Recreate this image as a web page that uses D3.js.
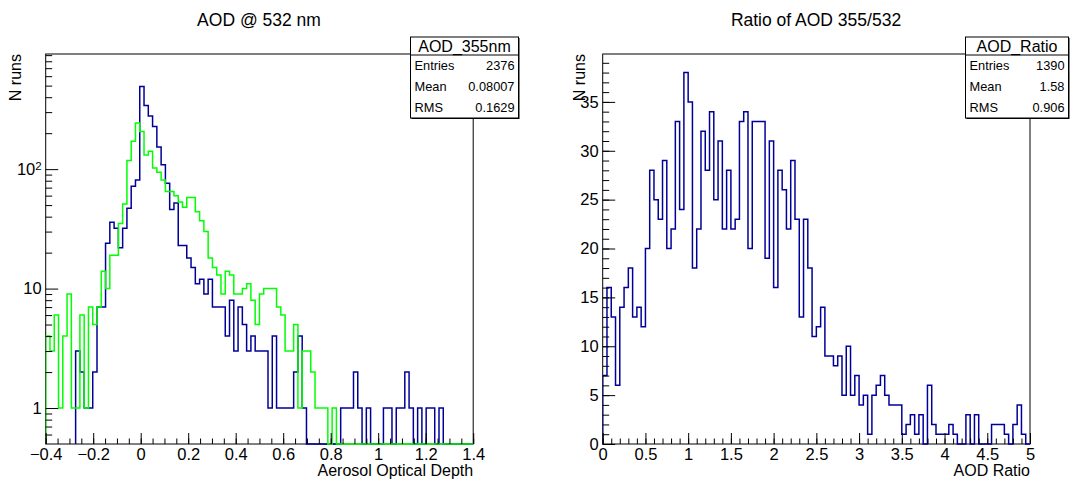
<!DOCTYPE html>
<html><head><meta charset="utf-8">
<script src="https://cdn.jsdelivr.net/npm/d3@7"></script>
<style>
body{margin:0;background:#fff}
svg{display:block}
text{font-family:"Liberation Sans",Arial,Helvetica,sans-serif;fill:#000}
</style>
</head><body>
<svg id="c" width="1071" height="480"></svg>
<script>
// ---------------- data ----------------
const aodRange = [-0.4, 1.4];
const aodBinCount = 100;
const aod355Counts = [
  0,0,0,0,0,0,0,3,2,1,
  1,2,7,7,24,36,32,22,32,47,
  72,81,491,341,279,227,153,109,76,46,
  52,23,23,18,15,11,12,9,12,7,
  7,7,4,8,3,7,5,3,4,3,
  3,3,1,4,1,1,1,1,2,4,
  1,0,0,0,0,0,0,0,0,1,
  1,1,2,1,0,1,0,0,0,1,
  1,0,1,1,2,1,0,1,0,1,
  1,0,1,0,0,0,0,0,0,0
];
const aod532Counts = [
  4,3,6,1,4,9,1,1,6,1,
  7,5,7,14,10,19,19,35,51,118,
  171,243,207,131,141,102,94,81,65,65,
  60,53,48,58,58,44,37,30,18,15,
  13,9,14,13,9,9,10,11,8,5,
  9,10,10,10,7,6,3,3,5,1,
  3,3,2,1,1,1,0,1,0,0,
  0,0,0,0,0,0,0,0,0,0,
  0,0,0,0,0,0,0,0,0,0,
  0,0,0,0,0,0,0,0,0,0
];
const ratioRange = [0, 5];
const ratioBinCount = 100;
const ratioCounts = [
  7,16,13,6,14,16,18,13,14,12,
  20,28,25,23,29,20,22,33,24,38,
  35,18,22,32,28,34,25,31,22,28,
  22,23,33,34,20,33,33,33,19,31,
  16,28,26,22,29,23,13,23,18,11,
  12,14,9,9,8,9,5,10,5,7,
  4,5,1,5,6,7,5,4,4,4,
  1,2,3,1,3,0,6,2,1,1,
  1,2,1,0,0,3,0,3,0,0,
  0,2,2,2,1,0,2,4,1,0
];
const aodYDomain = [0.5, 920];
const ratioYDomain = [0, 39.9];

const aodXMajor = [-0.4,-0.2,0,0.2,0.4,0.6,0.8,1,1.2,1.4];
const aodXLabels = ["\u22120.4","\u22120.2","0","0.2","0.4","0.6","0.8","1","1.2","1.4"];
const aodYMajor = [1,10,100];
const aodYLabels = ["1","10","10|2"];
const ratioXMajor = [0,0.5,1,1.5,2,2.5,3,3.5,4,4.5,5];
const ratioXLabels = ["0","0.5","1","1.5","2","2.5","3","3.5","4","4.5","5"];
const ratioYMajor = [0,5,10,15,20,25,30,35];
const ratioYLabels = ["0","5","10","15","20","25","30","35"];

const titles = ["AOD @ 532 nm", "Ratio of AOD 355/532"];
const xTitles = ["Aerosol Optical Depth", "AOD Ratio"];
const yTitle = "N runs";
const statsLeft = {name:"AOD_355nm", rows:[["Entries","2376"],["Mean","0.08007"],["RMS","0.1629"]]};
const statsRight = {name:"AOD_Ratio", rows:[["Entries","1390"],["Mean","1.58"],["RMS","0.906"]]};

const BLUE = "#000099", GREEN = "#00ff00";

// ---------------- helpers ----------------
const svg = d3.select("#c");

function histPath(counts, range, n, x, y, yBottomPx) {
  const w = (range[1]-range[0])/n;
  let first = counts.findIndex(v => v > 0);
  const pts = [];
  pts.push([x(range[0]+first*w), yBottomPx]);
  for (let i = first; i < n; i++) {
    const v = counts[i];
    const py = v > 0 ? y(v) : yBottomPx;
    pts.push([x(range[0]+i*w), py]);
    pts.push([x(range[0]+(i+1)*w), py]);
  }
  pts.push([x(range[1]), yBottomPx]);
  return d3.line()(pts);
}

function panel(opt) {
  const {L,R,T,B} = opt;
  const g = svg.append("g");
  const x = opt.x, y = opt.y;
  const clipId = "clip"+opt.id;
  svg.append("clipPath").attr("id", clipId).append("rect")
    .attr("x", L).attr("y", T).attr("width", R-L).attr("height", B-T+1);
  g.append("rect").attr("x",L).attr("y",T).attr("width",R-L).attr("height",B-T)
    .attr("fill","none").attr("stroke","#000").attr("stroke-width",1);
  opt.hists.forEach(h => {
    g.append("path").attr("clip-path",`url(#${clipId})`)
      .attr("d", histPath(h.counts, h.range, h.n, x, y, B))
      .attr("fill","none").attr("stroke",h.color).attr("stroke-width",1.5);
  });
  const gx = g.append("g").attr("transform",`translate(0,${B})`)
    .call(d3.axisBottom(x).tickValues(opt.xMajor).tickSize(-11).tickPadding(4)
      .tickFormat((d,i)=>opt.xLabels[i]));
  const gxm = g.append("g").attr("transform",`translate(0,${B})`)
    .call(d3.axisBottom(x).tickValues(opt.xMinor).tickSize(-5.5).tickFormat(""));
  const gy = g.append("g").attr("transform",`translate(${L},0)`)
    .call(d3.axisLeft(y).tickValues(opt.yMajor).tickSize(-12.5).tickPadding(4)
      .tickFormat((d,i)=>opt.yLabels[i]));
  const gym = g.append("g").attr("transform",`translate(${L},0)`)
    .call(d3.axisLeft(y).tickValues(opt.yMinor).tickSize(-6.5).tickFormat(""));
  [gx,gxm,gy,gym].forEach(a => {
    a.select(".domain").remove();
    a.selectAll("line").attr("stroke","#000").attr("stroke-width",1);
    a.selectAll("text").attr("font-size",16.5).attr("font-family",null).attr("fill","#000");
  });
  gy.selectAll("text").each(function(){
    const t = d3.select(this); const s = t.text();
    if (s.includes("|")) {
      const [b,e] = s.split("|");
      t.text(b);
      t.append("tspan").attr("dy","-0.45em").attr("font-size",11.5).text(e);
    }
  });
  svg.append("text").attr("x",opt.titleX).attr("y",26).attr("text-anchor","middle")
    .attr("font-size",17.5).text(opt.title);
  svg.append("text").attr("x",R).attr("y",476).attr("text-anchor","end")
    .attr("font-size",16).text(opt.xTitle);
  svg.append("text").attr("transform",`translate(${opt.yTitleX},${T}) rotate(-90)`)
    .attr("text-anchor","end").attr("font-size",16).text(yTitle);
  const s = opt.stats, bx = opt.box;
  const sb = svg.append("g");
  sb.append("rect").attr("x",bx.x+1).attr("y",bx.y+1).attr("width",bx.w).attr("height",bx.h).attr("fill","#000");
  sb.append("rect").attr("x",bx.x).attr("y",bx.y).attr("width",bx.w).attr("height",bx.h)
    .attr("fill","#fff").attr("stroke","#000").attr("stroke-width",1);
  const rowH = (bx.h - bx.th)/s.rows.length;
  sb.append("line").attr("x1",bx.x).attr("x2",bx.x+bx.w).attr("y1",bx.y+bx.th).attr("y2",bx.y+bx.th)
    .attr("stroke","#000");
  sb.append("text").attr("x",bx.x+bx.w/2).attr("y",bx.y+bx.th-3).attr("text-anchor","middle")
    .attr("font-size",16).text(s.name);
  s.rows.forEach((r,i) => {
    const cy = bx.y + bx.th + rowH*(i+0.5);
    sb.append("text").attr("x",bx.x+4).attr("y",cy).attr("dy","0.35em")
      .attr("font-size",12.8).text(r[0]);
    sb.append("text").attr("x",bx.x+bx.w-4).attr("y",cy).attr("dy","0.35em")
      .attr("text-anchor","end").attr("font-size",12.8).text(r[1]);
  });
}

{
  const L=45.7, R=473.2, T=54, B=444;
  const x = d3.scaleLinear().domain(aodRange).range([L,R]);
  const y = d3.scaleLog().domain(aodYDomain).range([B,T]);
  const xMinor = d3.range(-0.4, 1.4001, 0.05).map(v=>+v.toFixed(3));
  const yMinor = [0.6,0.7,0.8,0.9,2,3,4,5,6,7,8,9,20,30,40,50,60,70,80,90,200,300,400,500,600,700,800,900];
  panel({id:"L", L,R,T,B, x,y,
    hists:[{counts:aod355Counts, range:aodRange, n:aodBinCount, color:BLUE},
           {counts:aod532Counts, range:aodRange, n:aodBinCount, color:GREEN}],
    xMajor:aodXMajor, xLabels:aodXLabels, xMinor,
    yMajor:aodYMajor, yLabels:aodYLabels, yMinor,
    title:titles[0], titleX:259, xTitle:xTitles[0], yTitleX:21,
    stats:statsLeft, box:{x:410.5, y:37, w:108, h:81, th:18}
  });
}
{
  const L=602.7, R=1030, T=54, B=444;
  const x = d3.scaleLinear().domain(ratioRange).range([L,R]);
  const y = d3.scaleLinear().domain(ratioYDomain).range([B,T]);
  const xMinor = d3.range(0, 5.0001, 0.1).map(v=>+v.toFixed(2));
  const yMinor = d3.range(0, 40, 1);
  panel({id:"R", L,R,T,B, x,y,
    hists:[{counts:ratioCounts, range:ratioRange, n:ratioBinCount, color:BLUE}],
    xMajor:ratioXMajor, xLabels:ratioXLabels, xMinor,
    yMajor:ratioYMajor, yLabels:ratioYLabels, yMinor,
    title:titles[1], titleX:816, xTitle:xTitles[1], yTitleX:585,
    stats:statsRight, box:{x:965.5, y:37, w:103, h:81, th:18}
  });
}
</script>
</body></html>
